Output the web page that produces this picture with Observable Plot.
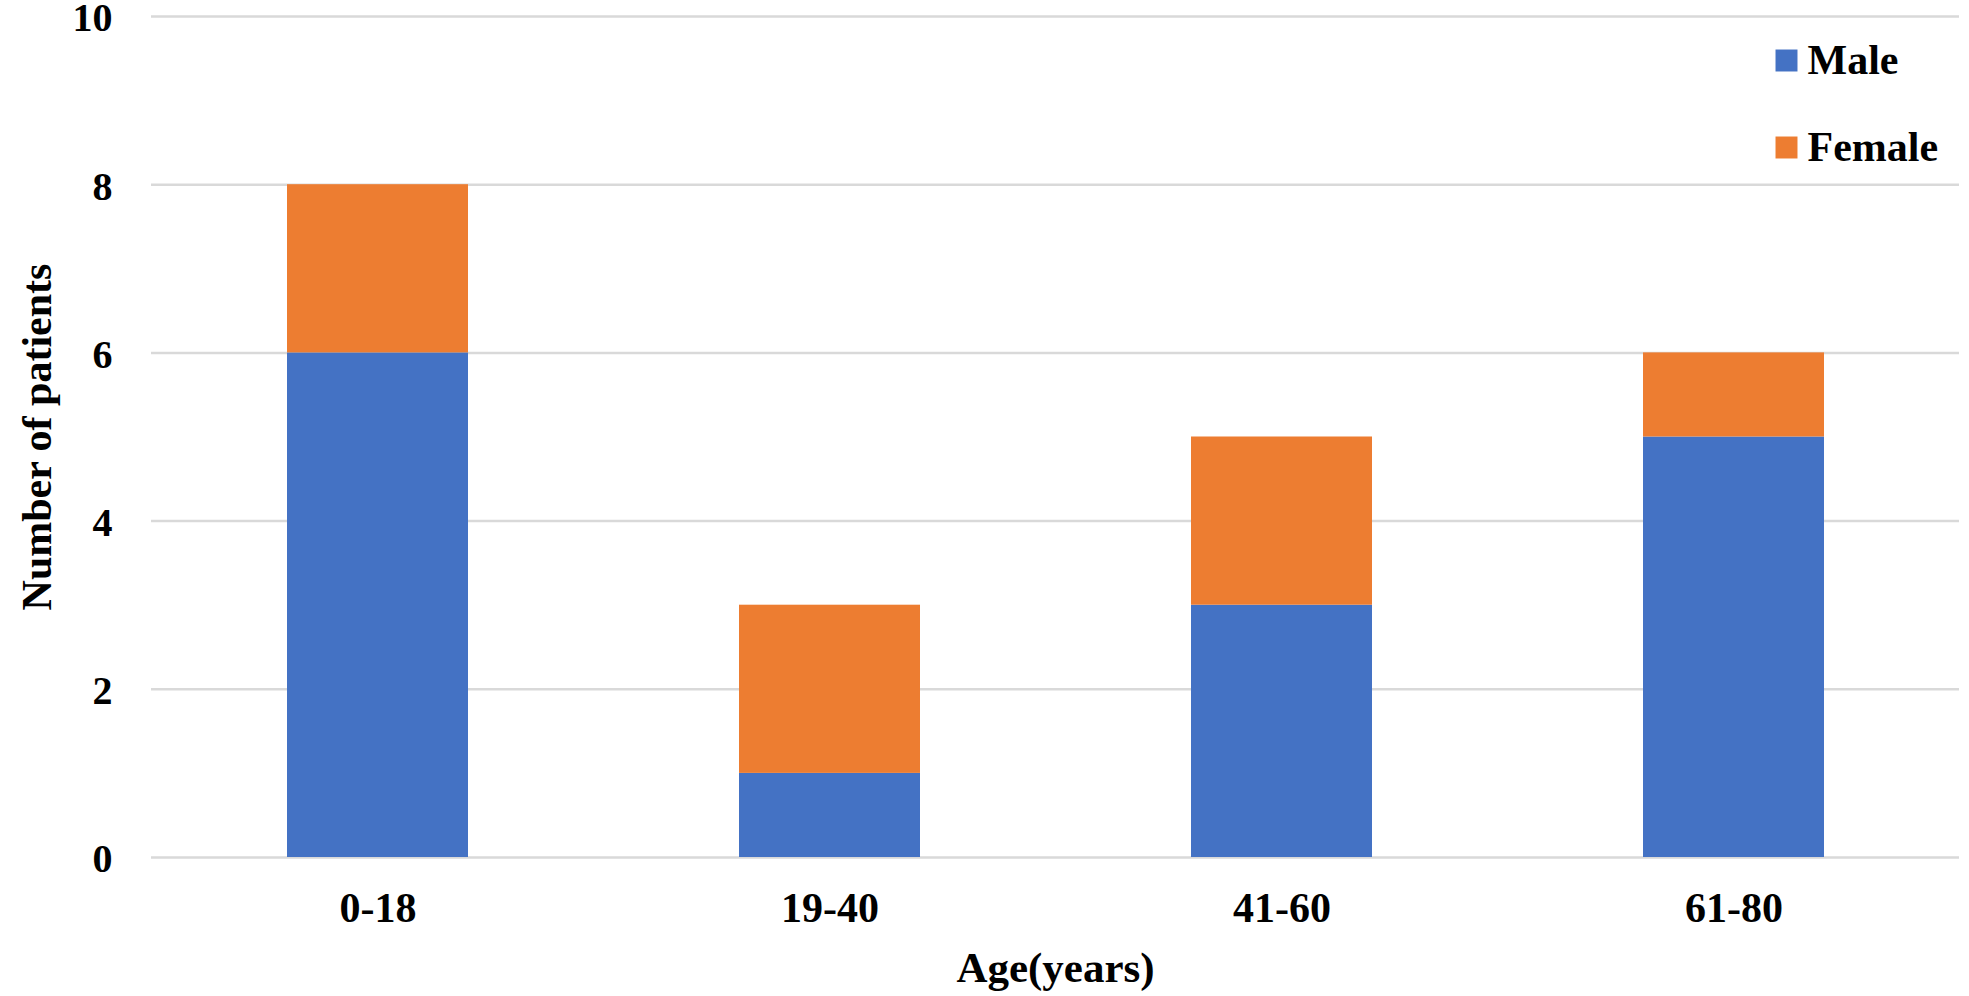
<!DOCTYPE html>
<html>
<head>
<meta charset="utf-8">
<script src="https://cdn.jsdelivr.net/npm/d3@7"></script>
<script src="https://cdn.jsdelivr.net/npm/@observablehq/plot@0.6"></script>
<style>
  html, body { margin: 0; padding: 0; background: #fff; }
</style>
</head>
<body>
<div id="chart"></div>
<script>
const categories = ["0-18", "19-40", "41-60", "61-80"];
const male = [6, 1, 3, 5];
const female = [2, 2, 2, 1];
const series = ["Male", "Female"];
const colors = ["#4472C4", "#ED7D31"];
const yTicks = [0, 2, 4, 6, 8, 10];
const xLabel = "Age(years)";
const yLabel = "Number of patients";

const data = [
  ...categories.map((c, i) => ({age: c, sex: "Male", count: male[i]})),
  ...categories.map((c, i) => ({age: c, sex: "Female", count: female[i]}))
];

const font = "'Liberation Serif', 'Times New Roman', serif";

const legendMarks = series.flatMap((s, i) => [
  Plot.dot([s], {frameAnchor: "top-right", dx: -173, dy: 44 + i * 87, symbol: "square", r: 12.4, fill: colors[i], stroke: "none"}),
  Plot.text([s], {frameAnchor: "top-right", dx: -152, dy: 44 + i * 87, text: d => d, textAnchor: "start", lineAnchor: "middle", fill: "#000", fontSize: 42, fontWeight: "bold"})
]);

const chart = Plot.plot({
  width: 1969,
  height: 996,
  marginLeft: 151,
  marginRight: 10,
  marginTop: 16,
  marginBottom: 139,
  style: {fontFamily: font, fontSize: "42px", fontWeight: "bold", color: "#000", background: "#fff", overflow: "visible"},
  x: {domain: categories, paddingInner: 0.6, paddingOuter: 0.3, label: null, tickSize: 0, tickPadding: 35},
  y: {domain: [0, 10], ticks: yTicks, label: null, tickSize: 0, tickPadding: 39},
  color: {domain: series, range: colors},
  marks: [
    Plot.ruleY(yTicks, {stroke: "#d9d9d9", strokeWidth: 2.5}),
    Plot.barY(data, {x: "age", y: "count", fill: "sex"}),
    Plot.axisX({tickSize: 0, tickPadding: 35, fontSize: 42, fontWeight: "bold", label: null}),
    Plot.axisY({ticks: yTicks, tickSize: 0, tickPadding: 39, dy: 2, fontSize: 40, fontWeight: "bold", label: null}),
    Plot.text([xLabel], {frameAnchor: "bottom", dy: 111, text: d => d, textAnchor: "middle", lineAnchor: "middle", fontSize: 43, fontWeight: "bold", fill: "#000"}),
    Plot.text([yLabel], {frameAnchor: "left", dx: -114, rotate: -90, text: d => d, textAnchor: "middle", lineAnchor: "middle", fontSize: 42, fontWeight: "bold", fill: "#000"}),
    ...legendMarks
  ]
});
document.getElementById("chart").appendChild(chart);
</script>
</body>
</html>
